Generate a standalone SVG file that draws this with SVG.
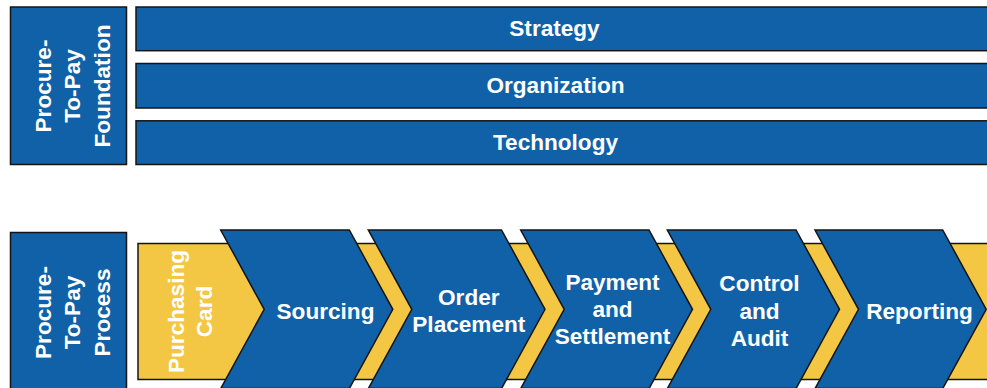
<svg xmlns="http://www.w3.org/2000/svg" width="987" height="388" viewBox="0 0 987 388">
  <style>
    .blue { fill: #1061A8; stroke: #141414; stroke-width: 1.5; }
    .gold { fill: #F3C643; stroke: #141414; stroke-width: 1.5; }
    text { font-family: "Liberation Sans", Arial, sans-serif; font-weight: bold; font-size: 22.6px; fill: #FFFFFF; text-anchor: middle; }
  </style>
  <rect width="987" height="388" fill="#FFFFFF"/>

  <!-- Foundation block -->
  <g id="foundation-label">
    <rect class="blue" x="10.5" y="7" width="116" height="157.5"/>
    <g transform="translate(0,86) rotate(-90)">
      <text x="0" y="50.5">Procure-</text>
      <text x="0" y="80">To-Pay</text>
      <text x="0" y="109.5">Foundation</text>
    </g>
  </g>
  <g id="strategy">
    <rect class="blue" x="136" y="7" width="870" height="43.7"/>
    <text x="554.5" y="35.5">Strategy</text>
  </g>
  <g id="organization">
    <rect class="blue" x="136" y="63.5" width="870" height="44.5"/>
    <text x="555.5" y="93">Organization</text>
  </g>
  <g id="technology">
    <rect class="blue" x="136" y="120.8" width="870" height="43.7"/>
    <text x="555.5" y="150">Technology</text>
  </g>

  <!-- Process block -->
  <g id="process-label">
    <rect class="blue" x="10.5" y="232.5" width="116" height="170"/>
    <g transform="translate(0,312.5) rotate(-90)">
      <text x="0" y="50.5">Procure-</text>
      <text x="0" y="80">To-Pay</text>
      <text x="0" y="109.5">Process</text>
    </g>
  </g>

  <g id="purchasing-card">
    <rect class="gold" x="138" y="243.5" width="870" height="136"/>
    <g transform="translate(0,311.5) rotate(-90)">
      <text x="0" y="184.3">Purchasing</text>
      <text x="0" y="211.5">Card</text>
    </g>
  </g>

  <g id="sourcing">
    <polygon class="blue" points="220.7,230 349.3,230 392.8,309.3 349.3,388.6 220.7,388.6 264.2,309.3"/>
    <text x="325.5" y="319">Sourcing</text>
  </g>
  <g id="order-placement">
    <polygon class="blue" points="368.3,230 501.5,230 545,309.3 501.5,388.6 368.3,388.6 411.8,309.3"/>
    <text x="468.8" y="305">Order</text>
    <text x="468.8" y="332">Placement</text>
  </g>
  <g id="payment-settlement">
    <polygon class="blue" points="520.7,230 649,230 692.5,309.3 649,388.6 520.7,388.6 564.2,309.3"/>
    <text x="612.5" y="290">Payment</text>
    <text x="612.5" y="317">and</text>
    <text x="612.5" y="344">Settlement</text>
  </g>
  <g id="control-audit">
    <polygon class="blue" points="667.3,230 796,230 839.5,309.3 796,388.6 667.3,388.6 710.8,309.3"/>
    <text x="759.5" y="291">Control</text>
    <text x="759.5" y="318.5">and</text>
    <text x="759.5" y="346">Audit</text>
  </g>
  <g id="reporting">
    <polygon class="blue" points="815,230 942.7,230 986.2,309.3 942.7,388.6 815,388.6 858.5,309.3"/>
    <text x="919.5" y="318.5">Reporting</text>
  </g>

  <!-- connectors: none drawn; the chevrons carry the flow -->
  <g id="connectors"/>
</svg>
